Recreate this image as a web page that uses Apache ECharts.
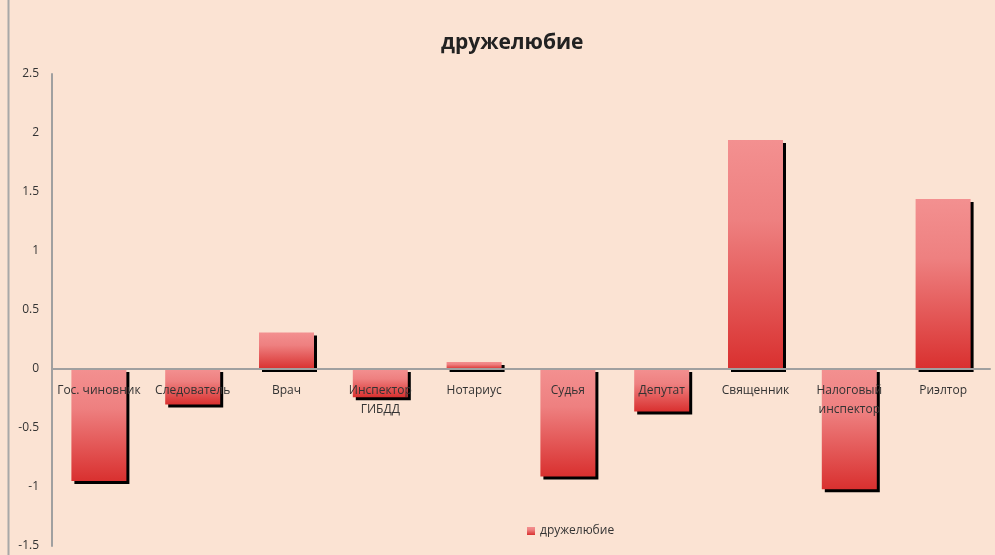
<!DOCTYPE html>
<html>
<head>
<meta charset="utf-8">
<script src="https://cdn.jsdelivr.net/npm/echarts@6/dist/echarts.min.js"></script>
<style>
    html, body { margin: 0; padding: 0; background: #fbe3d3; }
    #chart { width: 995px; height: 555px; }
</style>
</head>
<body>
<div id="chart"></div>
<script>
    var categories = ['Гос. чиновник', 'Следователь', 'Врач', 'Инспектор\nГИБДД', 'Нотариус',
        'Судья', 'Депутат', 'Священник', 'Налоговый\nинспектор', 'Риэлтор']
    var values = [-0.95, -0.30, 0.31, -0.24, 0.06, -0.91, -0.36, 1.94, -1.02, 1.44]
    var seriesName = 'дружелюбие'
    var yMin = -1.5
    var yMax = 2.5

    var myChart = echarts.init(document.getElementById('chart'))

    var gridTop = 74
    var gridBottom = 9
    var gridHeight = 555 - gridTop - gridBottom
    // move category axis (and its labels) up to the zero line
    var zeroOffset = -gridHeight * (0 - yMin) / (yMax - yMin)

    var barColor = new echarts.graphic.LinearGradient(0, 0, 0, 1, [
        { offset: 0, color: '#f39090' },
        { offset: 0.35, color: '#ee8080' },
        { offset: 1, color: '#d9302f' }
    ])

    var option = {
        backgroundColor: '#fbe3d3',
        textStyle: { fontFamily: 'Open Sans' },
        title: {
            text: seriesName,
            left: 436,
            top: 28,
            textStyle: {
                fontFamily: 'Open Sans',
                fontSize: 21,
                fontWeight: 'bold',
                color: '#222'
            }
        },
        graphic: [{
            type: 'line',
            shape: { x1: 8.5, y1: 0, x2: 8.5, y2: 555 },
            style: { stroke: '#a8a8a8', lineWidth: 2 }
        }],
        legend: {
            left: 522,
            top: 520,
            itemWidth: 8,
            itemHeight: 8,
            itemGap: 4,
            icon: 'rect',
            textStyle: { fontSize: 12, color: '#333' },
            data: [seriesName]
        },
        grid: {
            left: 52,
            right: 5,
            top: gridTop,
            bottom: gridBottom,
            outerBoundsMode: 'none'
        },
        xAxis: {
            type: 'category',
            data: categories,
            offset: zeroOffset,
            z: 10,
            axisTick: { show: false },
            axisLine: {
                show: true,
                onZero: false,
                lineStyle: { color: '#a0a0a0', width: 2 }
            },
            axisLabel: {
                color: '#333',
                fontSize: 12,
                margin: 12,
                interval: 0,
                lineHeight: 19
            }
        },
        yAxis: {
            type: 'value',
            min: yMin,
            max: yMax,
            interval: 0.5,
            splitLine: { show: false },
            axisTick: { show: false },
            axisLine: {
                show: true,
                lineStyle: { color: '#a0a0a0', width: 2 }
            },
            axisLabel: {
                color: '#333',
                fontSize: 12,
                margin: 13
            }
        },
        series: [{
            name: seriesName,
            type: 'bar',
            data: values,
            barWidth: 55,
            itemStyle: {
                color: barColor,
                shadowColor: '#000',
                shadowOffsetX: 3,
                shadowOffsetY: 3,
                shadowBlur: 0
            }
        }]
    }
    myChart.setOption(option)
</script>
</body>
</html>
